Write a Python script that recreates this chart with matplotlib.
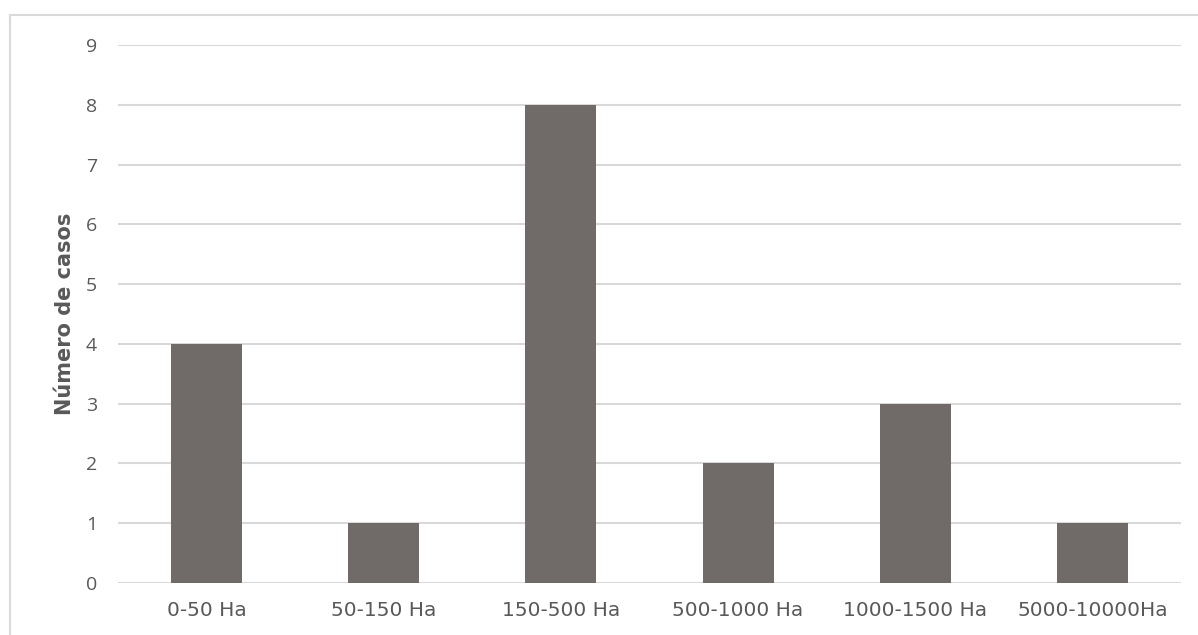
import matplotlib
matplotlib.use("Agg")
import matplotlib.pyplot as plt
from matplotlib.lines import Line2D

categories = ["0-50 Ha", "50-150 Ha", "150-500 Ha", "500-1000 Ha", "1000-1500 Ha", "5000-10000Ha"]
casos = [4, 1, 8, 2, 3, 1]
y_ticks = [0, 1, 2, 3, 4, 5, 6, 7, 8, 9]

bar_color = "#706b69"
grid_color = "#d9d9d9"
text_color = "#595959"

plt.rcParams["font.family"] = ["Open Sans", "DejaVu Sans"]

W, H = 1198, 635
fig = plt.figure(figsize=(W / 100, H / 100), dpi=100)
ax = fig.add_axes([118 / W, 1 - 583 / H, (1181 - 118) / W, (583 - 45) / H])

x = list(range(len(categories)))
ax.bar(x, casos, width=0.4, color=bar_color, zorder=3)

ax.set_xlim(-0.5, len(categories) - 0.5)
ax.set_ylim(0, 9)
ax.set_yticks(y_ticks)
ax.set_xticks(x)
ax.set_xticklabels(categories, fontsize=14.5, color=text_color, family="DejaVu Sans")
ax.tick_params(axis="y", length=0, pad=15, labelsize=14, labelcolor=text_color)
ax.tick_params(axis="x", length=0, pad=13)

ax.yaxis.grid(True, color=grid_color, linewidth=1.5, zorder=0)
ax.set_axisbelow(True)
for s in ax.spines.values():
    s.set_visible(False)

ax.set_ylabel("Número de casos", fontsize=15, color=text_color, fontweight="bold",
              family="DejaVu Sans", labelpad=8)

# outer chart frame (top and left edges)
fx0, fy0 = 9.5 / W, 1 - 14.5 / H
fig.add_artist(Line2D([fx0, 1.0], [fy0, fy0], transform=fig.transFigure, color=grid_color, linewidth=1.5))
fig.add_artist(Line2D([fx0, fx0], [0.0, fy0], transform=fig.transFigure, color=grid_color, linewidth=1.5))

fig.savefig("out.png", dpi=100, facecolor="white")
